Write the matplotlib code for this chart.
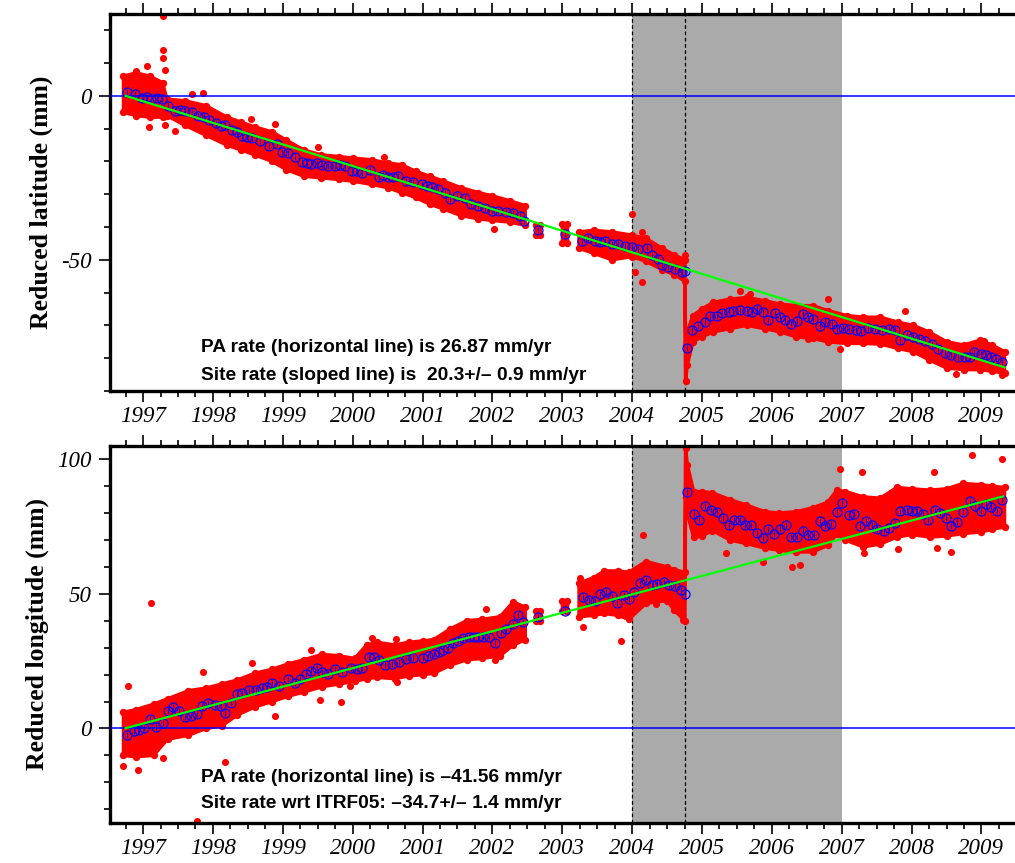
import numpy as np
import matplotlib
matplotlib.use("Agg")
import matplotlib.pyplot as plt
from matplotlib.ticker import MultipleLocator

plt.rcParams["axes.unicode_minus"] = False

nan = np.nan

# shaded period and event markers (decimal years)
shade_span = [2004.0, 2007.0]
event_times = [2004.0, 2004.755]

# ---- latitude: monthly means (blue circles)
lat_t = [1996.77, 1996.88, 1996.98, 1997.05, 1997.12, 1997.20, 1997.27, 1997.36, 1997.46, 1997.53,
         1997.60, 1997.70, 1997.79, 1997.87, 1997.94, 1998.04, 1998.11, 1998.18, 1998.27, 1998.35,
         1998.42, 1998.49, 1998.56, 1998.68, 1998.80, 1998.92, 1998.99, 1999.07, 1999.18, 1999.27,
         1999.34, 1999.41, 1999.49, 1999.56, 1999.65, 1999.75, 1999.82, 1999.89, 1999.99, 2000.06,
         2000.13, 2000.25, 2000.37, 2000.44, 2000.51, 2000.58, 2000.65, 2000.76, 2000.87, 2000.99,
         2001.06, 2001.13, 2001.22, 2001.32, 2001.39, 2001.49, 2001.61, 2001.70, 2001.79, 2001.89,
         2001.99, 2002.08, 2002.20, 2002.30, 2002.40, 2002.45, 2002.65, 2003.04, 2003.28, 2003.37,
         2003.47, 2003.54, 2003.61, 2003.71, 2003.80, 2003.90, 2004.00, 2004.09, 2004.21, 2004.28,
         2004.37, 2004.43, 2004.52, 2004.62, 2004.71, 2004.75, 2004.79, 2004.86, 2004.94, 2005.04,
         2005.12, 2005.21, 2005.28, 2005.38, 2005.45, 2005.55, 2005.64, 2005.71, 2005.79, 2005.87,
         2005.94, 2006.04, 2006.11, 2006.19, 2006.28, 2006.36, 2006.44, 2006.52, 2006.59, 2006.69,
         2006.76, 2006.86, 2006.93, 2007.02, 2007.11, 2007.20, 2007.28, 2007.38, 2007.48, 2007.57,
         2007.67, 2007.76, 2007.83, 2007.93, 2008.02, 2008.10, 2008.19, 2008.29, 2008.38, 2008.48,
         2008.57, 2008.67, 2008.76, 2008.83, 2008.90, 2009.00, 2009.07, 2009.14, 2009.21, 2009.30]
lat_v = [1.3, 0.5, -0.6, -0.5, -0.9, -0.8, -1.1, -3.2, -4.5, -4.2,
         -4.7, -5.0, -6.0, -6.5, -7.3, -8.3, -9.3, -8.8, -10.3, -11.0,
         -12.2, -12.5, -12.9, -13.9, -15.2, -14.7, -17.0, -17.5, -18.7, -20.3,
         -20.5, -20.7, -20.6, -21.0, -21.5, -21.3, -21.0, -21.5, -22.9, -23.0,
         -23.4, -22.6, -24.6, -24.0, -24.6, -24.8, -24.4, -25.9, -26.4, -26.9,
         -27.5, -27.9, -28.4, -29.5, -31.5, -30.5, -31.1, -33.0, -33.5, -34.3,
         -35.0, -35.0, -35.4, -35.6, -36.6, -38.3, -41.0, -42.2, -44.2, -43.5,
         -44.2, -44.5, -44.2, -45.2, -45.2, -45.9, -46.0, -46.7, -46.3, -48.6,
         -49.8, -51.6, -52.3, -52.8, -53.7, -53.5, -77.0, -71.4, -70.1, -68.9,
         -67.0, -67.0, -66.3, -65.9, -65.5, -65.2, -65.5, -65.9, -65.0, -66.0,
         -68.3, -66.3, -67.6, -68.3, -69.6, -68.6, -66.6, -67.6, -68.1, -70.1,
         -68.9, -69.6, -71.1, -70.9, -71.1, -71.3, -71.6, -70.9, -71.1, -71.3,
         -71.1, -71.3, -74.4, -72.9, -73.7, -74.2, -74.8, -75.7, -77.2, -78.4,
         -79.0, -79.5, -79.8, -79.5, -78.2, -78.7, -79.0, -79.5, -80.3, -81.1]

# latitude: envelope of the daily solutions (red cloud), nan = data gap
lat_band_t = [1996.72, 1996.9, 1997.1, 1997.28, 1997.34, 1997.6, 1997.9, 1998.2, 1998.4, 1998.6,
              1998.85, 1999.05, 1999.3, 1999.55, 1999.8, 2000.0, 2000.27, 2000.5, 2000.7, 2000.9,
              2001.1, 2001.3, 2001.55, 2001.8, 2002.0, 2002.25, 2002.47, nan, 2002.62, 2002.68,
              nan, 2003.0, 2003.07, nan, 2003.24, 2003.45, 2003.71, 2004.0, 2004.2, 2004.43,
              2004.6, 2004.755, 2004.765, 2004.79, 2004.87, 2005.0, 2005.16, 2005.4, 2005.64, 2005.9,
              2006.12, 2006.35, 2006.59, 2006.8, 2007.07, 2007.3, 2007.55, 2007.8, 2008.02, 2008.25,
              2008.5, 2008.75, 2008.98, 2009.15, 2009.33]
lat_band_hi = [6, 7, 6, 4, -1, -1.5, -3, -6.5, -8, -9.5,
               -11, -13.5, -16.5, -18, -18.5, -19, -19.5, -20.5, -21, -23,
               -24.5, -26, -28, -29.5, -30.5, -32, -33.5, nan, -39.5, -39.5,
               nan, -39, -39, nan, -41.5, -41, -41.5, -42.5, -43.5, -46.5,
               -48.5, -50, -76, -72, -67, -65, -63, -62, -61.5, -62.5,
               -63.5, -64, -64, -65.5, -67, -67.5, -67.5, -69, -70, -72,
               -75, -76, -74.5, -76, -78]
lat_band_lo = [-5, -6, -6.5, -6.5, -6, -9, -12, -15, -16.5, -18,
               -20, -22.5, -24.5, -25, -25.5, -26, -27, -28, -29.5, -31,
               -33, -34.5, -36.5, -37.5, -38, -38.5, -39.5, nan, -42.5, -42.5,
               nan, -45, -45, nan, -46.5, -48, -50, -49, -50.5, -53,
               -54.5, -56.5, -87, -82, -75, -73.5, -72, -71, -70, -71,
               -72, -73.5, -74, -75, -75.5, -75.5, -75.7, -77, -78, -80.5,
               -83, -83.5, -83.5, -84, -84.5]

# latitude: isolated daily points outside the cloud
lat_out_t = [1996.9, 1997.06, 1997.29, 1997.29, 1997.29, 1997.31, 1997.70, 1997.86, 1997.09, 1997.31,
             1997.46, 1998.55, 1998.89, 1999.51, 2000.45, 2002.02, 2004.0, 2004.14, 2004.04, 2004.14,
             2004.75, 2005.54, 2005.69, 2006.81, 2006.52, 2006.98, 2007.91, 2008.64, 2009.30, 2009.03]
lat_out_v = [7.5, 9.0, 24.4, 13.9, 11.5, 8.0, 0.7, 1.0, -9.4, -9.0,
             -10.6, -7.1, -8.6, -15.7, -18.8, -40.6, -36.0, -41.6, -53.7, -56.9,
             -48.6, -59.4, -60.5, -62.0, -74.2, -77.2, -65.5, -84.8, -85.2, -74.7]

# latitude: fitted sloped line
lat_fit_t = [1996.75, 2009.33]
lat_fit_v = [0.0, -82.8]

# ---- longitude: monthly means (blue circles)
lon_t = [1996.77, 1996.87, 1996.94, 1997.02, 1997.10, 1997.18, 1997.28, 1997.35, 1997.43, 1997.52,
         1997.60, 1997.69, 1997.77, 1997.84, 1997.93, 1998.03, 1998.11, 1998.18, 1998.26, 1998.34,
         1998.42, 1998.51, 1998.61, 1998.70, 1998.78, 1998.85, 1998.94, 1999.08, 1999.17, 1999.25,
         1999.33, 1999.41, 1999.49, 1999.56, 1999.64, 1999.75, 1999.85, 1999.98, 2000.06, 2000.13,
         2000.23, 2000.30, 2000.37, 2000.47, 2000.56, 2000.66, 2000.76, 2000.87, 2001.01, 2001.08,
         2001.16, 2001.23, 2001.30, 2001.37, 2001.44, 2001.51, 2001.58, 2001.66, 2001.73, 2001.80,
         2001.87, 2001.95, 2002.04, 2002.13, 2002.20, 2002.29, 2002.36, 2002.44, 2002.65, 2003.04,
         2003.29, 2003.38, 2003.47, 2003.54, 2003.62, 2003.71, 2003.79, 2003.88, 2003.96, 2004.03,
         2004.11, 2004.20, 2004.28, 2004.35, 2004.45, 2004.53, 2004.62, 2004.70, 2004.76, 2004.79,
         2004.88, 2004.96, 2005.04, 2005.13, 2005.21, 2005.30, 2005.38, 2005.46, 2005.54, 2005.62,
         2005.70, 2005.79, 2005.87, 2005.95, 2006.03, 2006.12, 2006.20, 2006.28, 2006.36, 2006.44,
         2006.52, 2006.60, 2006.69, 2006.76, 2006.84, 2006.93, 2007.01, 2007.10, 2007.18, 2007.26,
         2007.35, 2007.43, 2007.51, 2007.60, 2007.68, 2007.76, 2007.83, 2007.93, 2008.00, 2008.08,
         2008.17, 2008.24, 2008.33, 2008.41, 2008.49, 2008.57, 2008.65, 2008.74, 2008.83, 2008.91,
         2008.99, 2009.06, 2009.14, 2009.22, 2009.30]
lon_v = [-2.3, -1.1, -0.6, 0.1, 3.5, 0.5, 2.0, 6.3, 7.9, 6.3,
         4.2, 4.6, 5.3, 8.4, 9.6, 8.8, 8.4, 5.9, 9.4, 12.9,
         13.1, 14.3, 14.3, 14.9, 15.5, 16.8, 15.8, 18.3, 16.8, 18.3,
         20.3, 21.5, 22.4, 21.0, 20.3, 21.9, 20.8, 22.4, 22.0, 22.4,
         26.7, 26.4, 25.4, 23.6, 24.0, 24.8, 25.7, 26.1, 26.1, 27.0,
         27.7, 28.5, 29.1, 30.0, 31.6, 32.5, 33.5, 33.8, 34.1, 33.9,
         34.0, 34.0, 31.9, 35.6, 36.8, 38.8, 42.1, 39.6, 41.5, 43.7,
         48.7, 47.7, 47.3, 49.9, 50.7, 49.1, 46.7, 49.5, 47.9, 50.7,
         54.1, 55.3, 53.2, 53.8, 54.4, 53.2, 53.0, 51.6, 49.9, 88.0,
         79.5, 77.3, 82.5, 81.3, 80.4, 78.1, 75.4, 77.5, 77.5, 75.4,
         75.4, 72.6, 70.9, 73.9, 72.1, 73.9, 75.4, 71.1, 71.1, 73.3,
         71.7, 71.7, 77.0, 75.1, 75.8, 80.4, 83.7, 79.1, 79.5, 75.1,
         77.0, 75.4, 73.9, 73.3, 74.6, 76.3, 80.7, 81.0, 80.7, 80.7,
         79.5, 77.3, 81.0, 80.0, 78.3, 75.1, 76.7, 80.4, 84.4, 82.5,
         80.7, 83.5, 82.2, 80.7, 84.7]

# longitude: envelope of the daily solutions (red cloud), nan = data gap
lon_band_t = [1996.72, 1996.9, 1997.15, 1997.35, 1997.65, 1997.9, 1998.13, 1998.35, 1998.6, 1998.85,
              1999.08, 1999.3, 1999.56, 1999.8, 2000.03, 2000.2, 2000.35, 2000.6, 2000.8, 2001.0,
              2001.16, 2001.4, 2001.63, 2001.85, 2002.11, 2002.3, 2002.47, nan, 2002.62, 2002.68,
              nan, 2003.0, 2003.07, nan, 2003.24, 2003.45, 2003.6, 2003.8, 2003.95, 2004.2,
              2004.5, 2004.6, 2004.755, 2004.765, 2004.79, 2004.88, 2005.0, 2005.15, 2005.4, 2005.63,
              2005.9, 2006.1, 2006.35, 2006.59, 2006.8, 2006.93, 2007.05, 2007.31, 2007.55, 2007.79,
              2008.0, 2008.26, 2008.5, 2008.74, 2009.0, 2009.15, 2009.33]
lon_band_hi = [6, 7, 9, 11, 14, 15, 16.5, 18, 20.5, 22,
               24, 25.5, 27.5, 27, 26, 31, 32, 31, 32, 32.5,
               33, 37, 40, 40.5, 41.5, 47, 45, nan, 43.5, 43.5,
               nan, 47.5, 47.5, nan, 54, 56, 58.5, 58.5, 58, 62,
               60, 59, 58, 104, 98, 88, 88, 87.5, 85, 83,
               80.5, 80, 80.5, 82, 84, 88.5, 88, 86, 85.5, 89.5,
               89, 88.5, 89, 91, 90.5, 90, 89.5]
lon_band_lo = [-10, -10.5, -10, -4, -2.5, 0, 1, 5, 8, 10,
               12, 13.5, 15.5, 16.5, 17.5, 18.5, 19, 18.5, 19.5, 20,
               20.5, 23.5, 25.5, 26, 27, 31, 33, nan, 40, 40,
               nan, 43.5, 43.5, nan, 41.5, 42, 42.7, 42, 40.5, 46.5,
               47.5, 44, 40, 86, 80, 71, 71.5, 73.5, 70, 68.7,
               67, 66.2, 65.5, 65.6, 68, 72.4, 70, 67.4, 68.5, 71.1,
               72, 71.1, 71.5, 72.4, 73, 74, 74.8]

# longitude: isolated daily points outside the cloud
lon_out_t = [1996.78, 1996.72, 1997.12, 1997.77, 1998.18, 1996.93, 1997.29, 1997.86, 1998.56, 1998.89,
             1999.41, 1999.53, 1999.84, 1999.96, 2000.63, 2000.27, 2000.62, 2001.91, 2002.04, 2003.26,
             2003.30, 2003.84, 2004.16, 2004.34, 2004.73, 2005.35, 2005.88, 2006.29, 2006.40, 2006.98,
             2007.29, 2007.32, 2008.32, 2008.87, 2009.29, 2008.56, 2008.36, 2007.80]
lon_out_v = [15.8, -14.0, 46.7, -34.2, -12.4, -15.3, -11.0, 21.1, 24.2, 4.8,
             29.1, 10.6, 10.0, 15.8, 17.4, 33.5, 33.1, 44.2, 25.4, 55.7,
             37.8, 32.6, 72.0, 46.4, 40.3, 65.3, 61.9, 60.0, 60.6, 96.4,
             95.2, 65.0, 95.2, 101.7, 100.1, 65.6, 67.2, 66.8]

# longitude: fitted sloped line
lon_fit_t = [1996.75, 2009.31]
lon_fit_v = [0.1, 86.2]

lat_text = ["PA rate (horizontal line) is 26.87 mm/yr",
            "Site rate (sloped line) is  20.3+/\u2013 0.9 mm/yr"]
lon_text = ["PA rate (horizontal line) is \u201341.56 mm/yr",
            "Site rate wrt ITRF05: \u201334.7+/\u2013 1.4 mm/yr"]

RED = "#ff0000"
BLUE = "#0000ff"
GREEN = "#00ff00"


def draw_panel(ax, band_t, band_lo, band_hi, out_t, out_v, mon_t, mon_v,
               fit_t, fit_v, ylim, ymajor, ylabel, texts, text_y):
    ax.axvspan(shade_span[0], shade_span[1], color="#aaaaaa", lw=0, zorder=0)
    for t in event_times:
        ax.axvline(t, color="black", lw=0.9, ls=(0, (3, 2)), zorder=1)

    # daily solutions
    ax.fill_between(band_t, band_lo, band_hi, facecolor=RED, edgecolor=RED,
                    lw=2.5, joinstyle="round", zorder=2)
    ax.scatter(band_t, band_hi, s=28, color=RED, lw=0, zorder=2)
    ax.scatter(band_t, band_lo, s=28, color=RED, lw=0, zorder=2)
    ax.scatter(out_t, out_v, s=26, color=RED, lw=0, zorder=2)

    ax.axhline(0, color=BLUE, lw=1.1, zorder=3)

    # monthly means
    ax.plot(mon_t, mon_v, ls="none", marker="o", ms=6.5, mfc="none", mec=BLUE,
            mew=0.9, zorder=4)
    ax.plot(mon_t, mon_v, ls="none", marker="|", ms=4, mec=BLUE, mew=0.8,
            zorder=4)

    ax.plot(fit_t, fit_v, color=GREEN, lw=1.6, zorder=5)

    ax.set_xlim(1996.52, 2009.48)
    ax.set_ylim(*ylim)
    ax.xaxis.set_major_locator(MultipleLocator(1))
    ax.xaxis.set_minor_locator(MultipleLocator(0.25))
    ax.set_yticks(ymajor)
    ax.yaxis.set_minor_locator(MultipleLocator(10))
    ax.tick_params(axis="x", which="both", direction="out", top=True,
                   labeltop=False, width=1.2, pad=3)
    ax.tick_params(axis="both", which="major", length=8)
    ax.tick_params(axis="both", which="minor", length=4.5, width=1.2)
    ax.tick_params(axis="y", which="both", direction="out", width=1.2, pad=5)
    ax.xaxis.set_major_formatter(plt.FuncFormatter(lambda v, p: "%d" % round(v)))
    ax.yaxis.set_major_formatter(plt.FuncFormatter(lambda v, p: "%d" % round(v)))

    for side in ["left", "top", "bottom"]:
        ax.spines[side].set_linewidth(2.4)
    ax.spines["right"].set_visible(False)

    ax.set_ylabel(ylabel, fontfamily="Liberation Serif", fontweight="bold",
                  fontsize=18.5, labelpad=6)
    for txt, yy in zip(texts, text_y):
        ax.text(0.1015, yy, txt, transform=ax.transAxes, ha="left", va="center",
                fontfamily="Liberation Sans", fontweight="bold", fontsize=13.8,
                zorder=6)


fig = plt.figure(figsize=(10.15, 8.63), dpi=100)
ax1 = fig.add_axes([0.1079, 0.547, 0.8921, 0.4369])
ax2 = fig.add_axes([0.1079, 0.0467, 0.8921, 0.4368])

draw_panel(ax1, lat_band_t, lat_band_lo, lat_band_hi, lat_out_t, lat_out_v,
           lat_t, lat_v, lat_fit_t, lat_fit_v, (-90, 25), [-50, 0],
           "Reduced latitude (mm)", lat_text, [0.114, 0.040])
draw_panel(ax2, lon_band_t, lon_band_lo, lon_band_hi, lon_out_t, lon_out_v,
           lon_t, lon_v, lon_fit_t, lon_fit_v, (-35, 105), [0, 50, 100],
           "Reduced longitude (mm)", lon_text, [0.121, 0.050])

for ax in (ax1, ax2):
    for lab in ax.get_xticklabels() + ax.get_yticklabels():
        lab.set_fontfamily("Liberation Serif")
        lab.set_fontstyle("italic")
        lab.set_fontsize(16.5)

fig.savefig("out.png", dpi=100)
